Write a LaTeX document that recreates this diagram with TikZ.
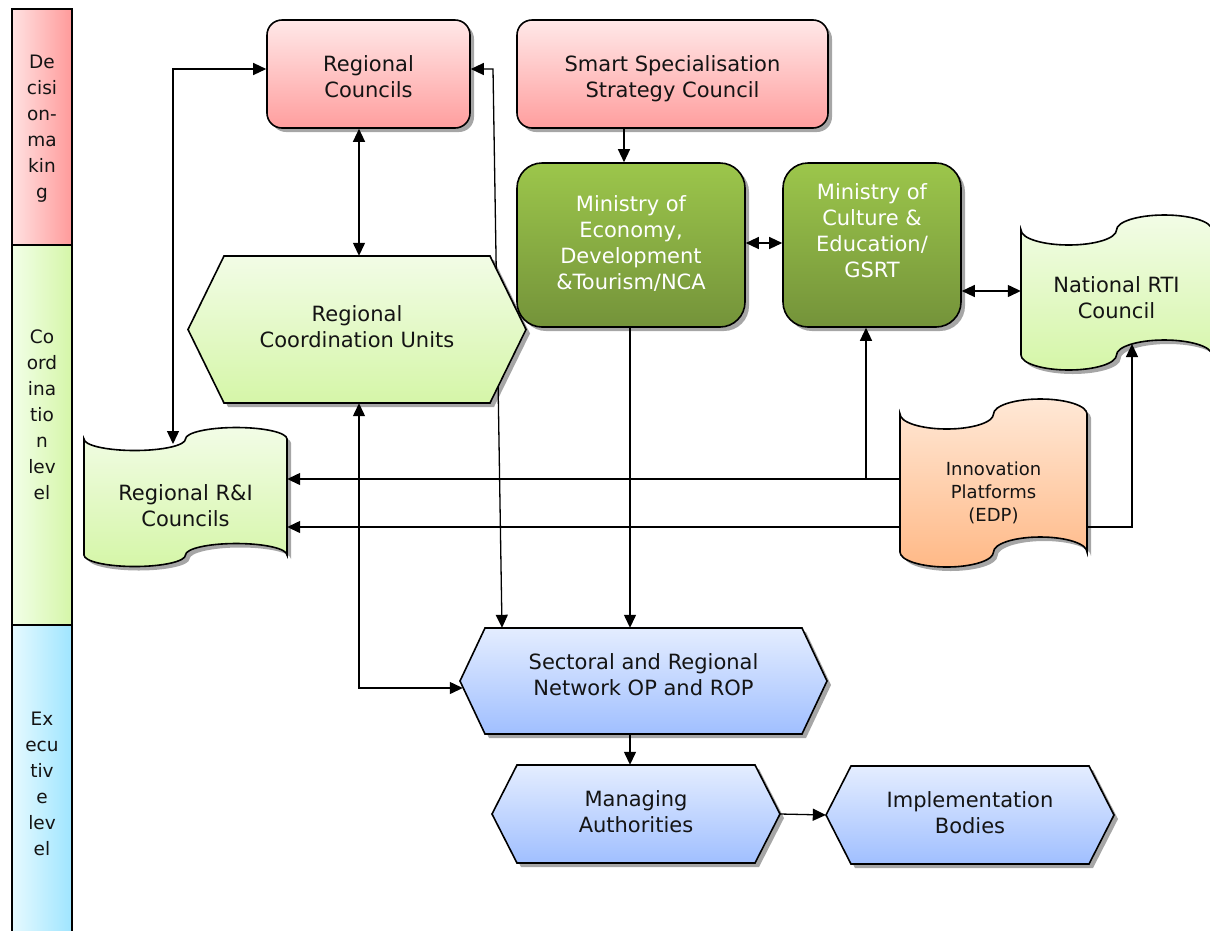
\documentclass[tikz,border=0pt]{standalone}
\usepackage{fontspec}
\setmainfont{DejaVu Sans}
\usetikzlibrary{arrows.meta,shadows,calc}
\pgfdeclarelayer{bg}
\pgfsetlayers{bg,main}
\definecolor{pinkT}{HTML}{FFE8E8}
\definecolor{pinkB}{HTML}{FF9E9E}
\definecolor{grT}{HTML}{9CC64B}
\definecolor{grB}{HTML}{74933A}
\definecolor{lgT}{HTML}{F2FCE6}
\definecolor{lgB}{HTML}{D5F6A8}
\definecolor{orT}{HTML}{FFE8D6}
\definecolor{orB}{HTML}{FFB987}
\definecolor{blT}{HTML}{E4EDFF}
\definecolor{blB}{HTML}{A0BFFF}
\definecolor{dmL}{HTML}{FFE2E2}
\definecolor{dmR}{HTML}{FF9A9A}
\definecolor{coL}{HTML}{F2FFE8}
\definecolor{coR}{HTML}{D5F6A8}
\definecolor{exL}{HTML}{E6FAFF}
\definecolor{exR}{HTML}{9FE5FF}
\definecolor{txtc}{HTML}{141414}
\newcommand\lift[2]{\raisebox{#1}[\height][\depth]{\begin{tabular}{@{}c@{}}#2\end{tabular}}}
\tikzset{
  shp/.style={draw=black, line width=1.6pt,
    drop shadow={shadow xshift=4pt, shadow yshift=-4pt, fill=black, opacity=0.35}},
  txt/.style={font=\fontsize{21}{26}\selectfont, text=txtc, inner sep=0pt},
  pinkbox/.style={shp, txt, rounded corners=15pt, top color=pinkT, bottom color=pinkB},
  greenbox/.style={shp, txt, rounded corners=25pt, top color=grT, bottom color=grB, text=white},
  lgshape/.style={shp, top color=lgT, bottom color=lgB},
  orshape/.style={shp, top color=orT, bottom color=orB},
  blshape/.style={shp, top color=blT, bottom color=blB},
  band/.style={draw=black, line width=2pt},
  bandtxt/.style={font=\fontsize{18.5}{26}\selectfont, text=txtc, align=center, inner sep=0pt},
  conn/.style={line width=1.3pt, -{Triangle[length=13pt,width=12pt]}},
  conn2/.style={line width=1.3pt, {Triangle[length=13pt,width=12pt]}-{Triangle[length=13pt,width=12pt]}},
}
\begin{document}
\begin{tikzpicture}[x=1pt,y=1pt]
\useasboundingbox (0,0) rectangle (1210,-930);

% ---- level bar
\path[band, left color=dmL, right color=dmR] (12,-9) rectangle (72,-245);
\path[band, left color=coL, right color=coR] (12,-245) rectangle (72,-625);
\path[band, left color=exL, right color=exR] (12,-625) rectangle (72,-945);
\node[bandtxt] (dm) at (42,-129) {De\\cisi\\on-\\ma\\kin\\g};
\node[bandtxt] (co) at (42,-415) {Co\\ord\\ina\\tio\\n\\lev\\el};
\node[bandtxt] (ex) at (42,-784) {Ex\\ecu\\tiv\\e\\lev\\el};

% ---- rounded boxes
\node[pinkbox, minimum width=203pt, minimum height=108pt] (rc) at (368.5,-74)
  {\lift{-5pt}{Regional\\Councils}};
\node[pinkbox, minimum width=311pt, minimum height=108pt] (ssc) at (672.5,-74)
  {\lift{-5pt}{Smart Specialisation\\Strategy Council}};
\node[greenbox, minimum width=228pt, minimum height=164pt] (meco) at (631,-245)
  {\lift{0pt}{Ministry of\\Economy,\\Development\\\&Tourism/NCA}};
\node[greenbox, minimum width=178pt, minimum height=164pt] (mcul) at (872,-245)
  {\lift{12pt}{Ministry of\\Culture \&\\Education/\\GSRT}};

% ---- hexagons
\path[lgshape] (224,-256) -- (490,-256) -- (526,-329.5) -- (490,-403) -- (224,-403) -- (188,-329.5) -- cycle;
\node[txt, minimum width=338pt, minimum height=147pt] (rcu) at (357,-329.5)
  {\lift{0pt}{Regional\\Coordination Units}};
\path[blshape] (485,-628) -- (802,-628) -- (827,-681) -- (802,-734) -- (485,-734) -- (460,-681) -- cycle;
\node[txt, minimum width=367pt, minimum height=106pt] (srn) at (643.5,-681)
  {\lift{3.5pt}{Sectoral and Regional\\Network OP and ROP}};
\path[blshape] (517,-765) -- (755,-765) -- (780,-814) -- (755,-863) -- (517,-863) -- (492,-814) -- cycle;
\node[txt, minimum width=288pt, minimum height=98pt] (ma) at (636,-814)
  {\lift{0pt}{Managing\\Authorities}};
\path[blshape] (851,-766) -- (1089,-766) -- (1114,-815) -- (1089,-864) -- (851,-864) -- (826,-815) -- cycle;
\node[txt, minimum width=288pt, minimum height=98pt] (ib) at (970,-815)
  {\lift{0pt}{Implementation\\Bodies}};

% ---- tapes
\path[lgshape] (84,-439)
  arc[start angle=180, end angle=360, x radius=50.75, y radius=11.5]
  arc[start angle=180, end angle=0, x radius=50.75, y radius=11.5]
  -- (287,-555)
  arc[start angle=0, end angle=180, x radius=50.75, y radius=11.5]
  arc[start angle=0, end angle=-180, x radius=50.75, y radius=11.5]
  -- cycle;
\node[txt, minimum width=203pt, minimum height=140pt] (rri) at (185.5,-497)
  {\lift{-11pt}{Regional R\&I\\Councils}};
\path[orshape] (900,-414)
  arc[start angle=180, end angle=360, x radius=46.75, y radius=15]
  arc[start angle=180, end angle=0, x radius=46.75, y radius=15]
  -- (1087,-552)
  arc[start angle=0, end angle=180, x radius=46.75, y radius=15]
  arc[start angle=0, end angle=-180, x radius=46.75, y radius=15]
  -- cycle;
\node[txt, font=\fontsize{18}{23}\selectfont, minimum width=187pt, minimum height=170pt] (ip) at (993.5,-483)
  {\lift{-11pt}{Innovation\\Platforms\\(EDP)}};
\path[lgshape] (1021,-230)
  arc[start angle=180, end angle=360, x radius=47.75, y radius=15]
  arc[start angle=180, end angle=0, x radius=47.75, y radius=15]
  -- (1212,-355)
  arc[start angle=0, end angle=180, x radius=47.75, y radius=15]
  arc[start angle=0, end angle=-180, x radius=47.75, y radius=15]
  -- cycle;
\node[txt, minimum width=191pt, minimum height=155pt] (rti) at (1116.5,-292.5)
  {\lift{-7.5pt}{National RTI\\Council}};

% ---- helper coordinates
\coordinate (x359) at (359,0);
\coordinate (x624) at (624,0);
\coordinate (x630) at (630,0);
\coordinate (x502) at (502,0);
\coordinate (x866) at (866,0);
\coordinate (y291) at (0,-291);
\coordinate (y479) at (0,-479);
\coordinate (y527) at (0,-527);
\coordinate (c1) at (493,-69);
\coordinate (rritop) at (173,-444);
\coordinate (rtibot) at (1132,-344);
\coordinate (j1) at (866,-479);
\coordinate (j2) at (1132,-527);

% ---- connectors
\begin{pgfonlayer}{bg}
\draw[conn2] ([yshift=5pt]rc.east) -- (c1) -- (srn.north -| x502);
\end{pgfonlayer}
\draw[conn2] (rc.south -| x359) -- (rcu.north -| x359);
\draw[conn] (ssc.south -| x624) -- (meco.north -| x624);
\draw[conn2] ([yshift=2pt]meco.east) -- ([yshift=2pt]mcul.west);
\draw[conn2] (mcul.east |- y291) -- (rti.west |- y291);
\draw[conn2] ([yshift=5pt]rc.west) -| (rritop);
\draw[conn2] (rcu.south -| x359) |- ([xshift=3pt,yshift=-7pt]srn.west);
\draw[conn] (meco.south -| x630) -- (srn.north -| x630);
\draw[conn] (srn.south -| x630) -- (ma.north -| x630);
\draw[conn] (ma.east) -- (ib.west);
\draw[conn] (ip.west |- y479) -- (rri.east |- y479);
\draw[conn] (j1) -- (mcul.south -| x866);
\draw[conn] (ip.west |- y527) -- (rri.east |- y527);
\draw[conn] (ip.east |- y527) -- (j2) -- (rtibot);
\end{tikzpicture}
\end{document}
